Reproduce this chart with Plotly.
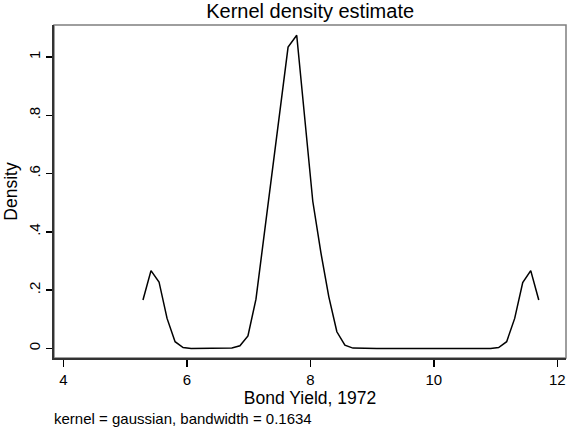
import plotly.graph_objects as go

# Evaluation grid (Bond Yield, 1972) and estimated density
bond_yield = [5.29, 5.42, 5.55, 5.68, 5.81, 5.94, 6.07, 6.21, 6.34, 6.47,
              6.60, 6.73, 6.86, 6.99, 7.12, 7.25, 7.38, 7.51, 7.64, 7.78,
              7.91, 8.04, 8.17, 8.30, 8.43, 8.56, 8.69, 8.82, 8.95, 9.08,
              9.21, 9.35, 9.48, 9.61, 9.74, 9.87, 10.00, 10.13, 10.26, 10.39,
              10.52, 10.65, 10.78, 10.92, 11.05, 11.18, 11.31, 11.44, 11.57, 11.70]
density = [0.166, 0.267, 0.228, 0.103, 0.023, 0.003, 0.000, 0.000, 0.000, 0.000,
           0.000, 0.001, 0.009, 0.043, 0.169, 0.385, 0.600, 0.820, 1.034, 1.075,
           0.780, 0.505, 0.330, 0.177, 0.057, 0.011, 0.001, 0.000, 0.000, 0.000,
           0.000, 0.000, 0.000, 0.000, 0.000, 0.000, 0.000, 0.000, 0.000, 0.000,
           0.000, 0.000, 0.000, 0.000, 0.003, 0.023, 0.103, 0.226, 0.267, 0.166]

x_ticks = [4, 6, 8, 10, 12]
x_tick_labels = ["4", "6", "8", "10", "12"]
y_ticks = [0, 0.2, 0.4, 0.6, 0.8, 1.0]
y_tick_labels = ["0", ".2", ".4", ".6", ".8", "1"]

FONT = "Liberation Sans, Arial, sans-serif"

fig = go.Figure()
fig.add_trace(go.Scatter(x=bond_yield, y=density, mode="lines",
                         line=dict(color="black", width=1.5),
                         showlegend=False, hoverinfo="skip"))

fig.update_layout(
    width=567, height=430,
    margin=dict(l=54, r=1, t=25, b=72, autoexpand=False),
    paper_bgcolor="white", plot_bgcolor="white",
    font=dict(family=FONT, color="black"),
    title=dict(text="Kernel density estimate", x=0.547, xanchor="center",
               yref="container", y=1 - 11 / 430, yanchor="middle",
               automargin=False,
               font=dict(size=20, family=FONT, color="black")),
    shapes=[dict(type="rect", xref="paper", yref="paper", x0=0, x1=1, y0=0, y1=1,
                 line=dict(color="#7f7f7f", width=1.5), layer="below")],
    annotations=[dict(text="kernel = gaussian, bandwidth = 0.1634",
                      xref="paper", yref="paper", x=-0.003, y=-0.183,
                      xanchor="left", yanchor="middle", showarrow=False,
                      font=dict(size=15, family=FONT, color="black"))],
)

fig.update_xaxes(range=[3.849, 12.141], tickvals=x_ticks, ticktext=x_tick_labels,
                 automargin=False,
                 showgrid=False, zeroline=False, showline=True,
                 linecolor="#333333", linewidth=2,
                 ticks="outside", ticklen=7, tickwidth=1.5, tickcolor="black",
                 tickfont=dict(size=15, family=FONT),
                 title=dict(text="Bond Yield, 1972", standoff=4,
                            font=dict(size=17.5, family=FONT)))
fig.update_yaxes(range=[-0.033, 1.110], tickvals=y_ticks, ticktext=y_tick_labels,
                 automargin=False,
                 showgrid=False, zeroline=False, showline=True,
                 linecolor="#333333", linewidth=2,
                 ticks="outside", ticklen=6, tickwidth=1.5, tickcolor="black",
                 tickangle=-90,
                 tickfont=dict(size=15, family=FONT),
                 title=dict(text="Density", standoff=4,
                            font=dict(size=17.5, family=FONT)))

fig.write_html("out.html",
               config={"displayModeBar": False, "staticPlot": True},
               post_script="document.body.style.margin='0';document.body.style.overflow='hidden';")
